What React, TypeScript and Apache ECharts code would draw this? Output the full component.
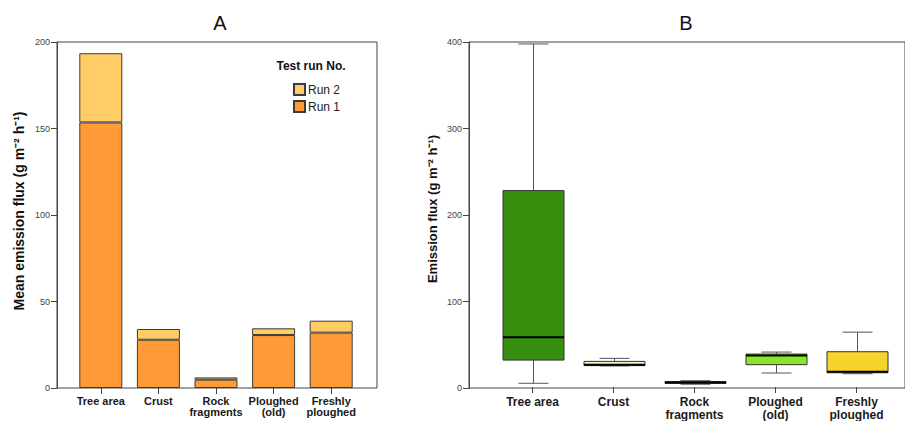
import React, { useEffect, useRef } from "react";
import * as echarts from "echarts";

const categories = ["Tree area", "Crust", "Rock\nfragments", "Ploughed\n(old)", "Freshly\nploughed"];
const run1 = [153.5, 27.9, 4.8, 30.6, 32.0];
const run2 = [40.0, 6.2, 1.3, 3.9, 6.9];
const boxMin = [4.3, 24.5, 3.2, 16.2, 15.4];
const boxQ1 = [31.2, 24.8, 4.2, 25.9, 16.5];
const boxMed = [57.8, 25.8, 5.2, 36.6, 17.8];
const boxQ3 = [227.7, 29.7, 6.3, 38.2, 40.9];
const boxMax = [397.7, 33.2, 7.3, 40.5, 63.6];
const boxColors = ["#368F0F", "#F6EEC2", "#3a3a3a", "#8AE62B", "#F7D42B"];
const yTicksA = { min: 0, max: 200, interval: 50 };
const yTicksB = { min: 0, max: 400, interval: 100 };

const FONT = "'Liberation Sans', Arial, sans-serif";

export default function App() {
  const ref = useRef<HTMLDivElement>(null);
  useEffect(() => {
    if (!ref.current) return;
    const chart = echarts.init(ref.current, null, { renderer: "svg" });
    const axisColor = "#444";
    const frameY = (ticks: any, gridIndex: number) => ({
      gridIndex,
      type: "value",
      min: ticks.min,
      max: ticks.max,
      interval: ticks.interval,
      axisLine: { show: true, lineStyle: { color: axisColor, width: 1 } },
      axisTick: { show: true, length: 6, lineStyle: { color: axisColor } },
      axisLabel: { fontSize: 9, margin: 7, color: "#444", fontFamily: FONT },
      splitLine: { show: false },
    });
    const catX = (gridIndex: number, fs: number, lh: number, margin: number) => ({
      gridIndex,
      type: "category",
      data: categories,
      axisLine: { show: false },
      axisTick: { show: true, alignWithLabel: true, length: 6, lineStyle: { color: axisColor } },
      axisLabel: {
        interval: 0,
        fontSize: fs,
        lineHeight: lh,
        fontWeight: "bold",
        margin,
        color: "#1a1a1a",
        fontFamily: FONT,
      },
      splitLine: { show: false },
    });
    const option: any = {
      animation: false,
      backgroundColor: "#ffffff",
      textStyle: { fontFamily: FONT },
      grid: [
        { left: 57, width: 320, top: 42, bottom: 33, show: true, borderColor: axisColor, borderWidth: 1, backgroundColor: "transparent" },
        { left: 72, width: 288, top: 42, bottom: 33 },
        { left: 469, width: 445, top: 42, bottom: 33, show: true, borderColor: axisColor, borderWidth: 1, backgroundColor: "transparent" },
        { left: 492, width: 405, top: 42, bottom: 33 },
      ],
      xAxis: [
        { gridIndex: 0, type: "value", min: 0, max: 1, show: false },
        catX(1, 11, 11, 7),
        { gridIndex: 2, type: "value", min: 0, max: 1, show: false },
        catX(3, 12, 13, 8),
      ],
      yAxis: [
        frameY(yTicksA, 0),
        { gridIndex: 1, type: "value", min: yTicksA.min, max: yTicksA.max, show: false, splitLine: { show: false } },
        frameY(yTicksB, 2),
        { gridIndex: 3, type: "value", min: yTicksB.min, max: yTicksB.max, show: false, splitLine: { show: false } },
      ],
      legend: {
        data: ["Run 2", "Run 1"],
        orient: "vertical",
        left: 288,
        top: 78,
        icon: "rect",
        itemWidth: 11,
        itemHeight: 11,
        itemGap: 4,
        textStyle: { fontSize: 12, color: "#222", fontFamily: FONT, padding: [0, 0, 0, -2] },
      },
      graphic: [
        { type: "text", x: 220, y: 23, style: { text: "A", fill: "#111", font: `20px ${FONT}`, textAlign: "center", textVerticalAlign: "middle" } },
        { type: "text", x: 686, y: 23, style: { text: "B", fill: "#111", font: `20px ${FONT}`, textAlign: "center", textVerticalAlign: "middle" } },
        { type: "text", x: 311, y: 66, style: { text: "Test run No.", font: `bold 12px ${FONT}`, fill: "#111", textAlign: "center", textVerticalAlign: "middle" } },
        { type: "text", x: 18.5, y: 211, rotation: Math.PI / 2, style: { text: "Mean emission flux (g m⁻² h⁻¹)", font: `bold 14px ${FONT}`, fill: "#111", textAlign: "center", textVerticalAlign: "middle" } },
        { type: "text", x: 432, y: 209, rotation: Math.PI / 2, style: { text: "Emission flux (g m⁻² h⁻¹)", font: `bold 13px ${FONT}`, fill: "#111", textAlign: "center", textVerticalAlign: "middle" } },
      ],
      series: [
        {
          name: "Run 1",
          type: "bar",
          xAxisIndex: 1,
          yAxisIndex: 1,
          stack: "a",
          barWidth: 43,
          data: run1,
          itemStyle: { color: "#FF9A36", borderColor: "#3a3a3a", borderWidth: 1 },
        },
        {
          name: "Run 2",
          type: "bar",
          xAxisIndex: 1,
          yAxisIndex: 1,
          stack: "a",
          barWidth: 43,
          data: run2,
          itemStyle: { color: "#FFCC66", borderColor: "#3a3a3a", borderWidth: 1 },
        },
        {
          name: "box",
          type: "custom",
          xAxisIndex: 3,
          yAxisIndex: 3,
          encode: { x: 0, y: [1, 2, 3, 4, 5] },
          data: categories.map((_, i) => [i, boxMin[i], boxQ1[i], boxMed[i], boxQ3[i], boxMax[i]]),
          renderItem: (params: any, api: any) => {
            const i = api.value(0);
            const pMin = api.coord([i, api.value(1)]);
            const pQ1 = api.coord([i, api.value(2)]);
            const pMed = api.coord([i, api.value(3)]);
            const pQ3 = api.coord([i, api.value(4)]);
            const pMax = api.coord([i, api.value(5)]);
            const cx = Math.round(pMin[0]) + 0.5;
            const hw = 30.5;
            const cw = 15;
            const wStyle = { stroke: "#555", lineWidth: 1 };
            return {
              type: "group",
              children: [
                { type: "line", shape: { x1: cx, y1: pMax[1], x2: cx, y2: pQ3[1] }, style: wStyle },
                { type: "line", shape: { x1: cx, y1: pQ1[1], x2: cx, y2: pMin[1] }, style: wStyle },
                { type: "line", shape: { x1: cx - cw, y1: pMax[1], x2: cx + cw, y2: pMax[1] }, style: wStyle },
                { type: "line", shape: { x1: cx - cw, y1: pMin[1], x2: cx + cw, y2: pMin[1] }, style: wStyle },
                {
                  type: "rect",
                  shape: { x: cx - hw, y: pQ3[1], width: hw * 2, height: pQ1[1] - pQ3[1] },
                  style: { fill: boxColors[i], stroke: "#333", lineWidth: 1 },
                },
                { type: "line", shape: { x1: cx - hw, y1: pMed[1], x2: cx + hw, y2: pMed[1] }, style: { stroke: "#000", lineWidth: 2 } },
              ],
            };
          },
        },
      ],
    };
    chart.setOption(option);
    return () => chart.dispose();
  }, []);
  return <div ref={ref} style={{ position: "absolute", left: 0, top: 0, width: 905, height: 421 }} />;
}
